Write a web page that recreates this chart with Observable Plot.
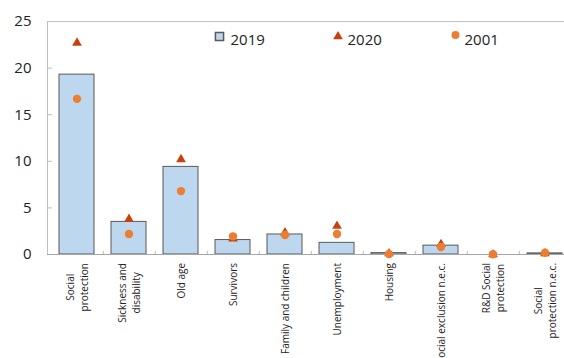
<!DOCTYPE html>
<html><head><meta charset="utf-8">
<script src="https://cdn.jsdelivr.net/npm/d3@7"></script>
<script src="https://cdn.jsdelivr.net/npm/@observablehq/plot@0.6"></script>
<style>
html,body{margin:0;padding:0;overflow:hidden;background:#fff;font-family:"Open Sans",sans-serif}
</style>
</head><body><div id="chart"></div>
<script>
const categories = ["Social protection","Sickness and disability","Old age","Survivors","Family and children","Unemployment","Housing","Social exclusion n.e.c.","R&D Social protection","Social protection n.e.c."];
const categoryLabels = ["Social\nprotection","Sickness and\ndisability","Old age","Survivors","Family and children","Unemployment","Housing","Social exclusion n.e.c.","R&D Social\nprotection","Social\nprotection n.e.c."];
const values2019 = [19.3,3.5,9.4,1.55,2.15,1.25,0.15,0.95,0,0.12];
const values2020 = [22.7,3.8,10.2,1.7,2.35,3.05,0.1,1.1,0,0.1];
const values2001 = [16.7,2.2,6.8,1.95,2.1,2.2,0.05,0.8,0.02,0.18];
const yTicks = [0,5,10,15,20,25];
const seriesNames = ["2019","2020","2001"];

const rows = categories.map((c,i)=>({cat:c, v2019:values2019[i], v2020:values2020[i], v2001:values2001[i]}));

const width = 564, height = 358;
const mL = 47, mR = -9, mT = 21, mB = 104;
const plotW = width - mL - mR;
const step = plotW / categories.length;

const ctx = document.createElement("canvas").getContext("2d");
ctx.font = "10px 'Open Sans'";
const maxLen = s => Math.max(...s.split("\n").map(l => ctx.measureText(l).width));

const barFill = "#BDD7EE", barStroke = "#595959", triColor = "#C9400C", dotColor = "#ED7D31", axisColor = "#BFBFBF", textColor = "#222";

const labelMarks = categoryLabels.map((lab,i) => Plot.text([lab], {
  x: () => categories[i], text: d => d, frameAnchor: "bottom",
  rotate: -90, textAnchor: "middle", lineAnchor: "middle", lineHeight: 1.4,
  dy: 8.5 + maxLen(lab)/2, fontSize: 10, fill: textColor
}));

const chart = Plot.plot({
  width, height, marginLeft: mL, marginRight: mR, marginTop: mT, marginBottom: mB,
  style: {fontFamily: "'Open Sans', sans-serif", overflow: "hidden", background: "#fff"},
  x: {domain: categories, paddingInner: 0.33, paddingOuter: 0.165, axis: null},
  y: {domain: [0,25], axis: null},
  marks: [
    Plot.ruleY([25], {stroke: axisColor}),
    Plot.frame({anchor: "left", stroke: axisColor}),
    Plot.ruleY(yTicks, {stroke: axisColor, insetRight: plotW - 5}),
    Plot.axisY({ticks: yTicks, tickSize: 0, tickPadding: 16, fontSize: 15, fill: textColor, label: null}),
    Plot.barY(rows, {x: "cat", y: "v2019", fill: barFill, stroke: barStroke, strokeWidth: 1}),
    Plot.ruleY([0], {stroke: "#A6A6A6"}),
    Plot.ruleX(categories, {x: d => d, dx: step/2, y1: 0, y2: 0.35, stroke: axisColor}),
    Plot.dot(rows, {x: "cat", y: "v2020", symbol: "triangle", r: 3.6, fill: triColor}),
    Plot.dot(rows, {x: "cat", y: "v2001", symbol: "circle", r: 4.2, fill: dotColor}),
    // legend
    Plot.dot([seriesNames[0]], {frameAnchor: "top-left", dx: 172, dy: 15, symbol: "square", r: 4.6, fill: barFill, stroke: barStroke}),
    Plot.text([seriesNames[0]], {frameAnchor: "top-left", dx: 183, dy: 13, text: d => d, textAnchor: "start", fontSize: 15, fill: textColor}),
    Plot.dot([seriesNames[1]], {frameAnchor: "top-left", dx: 290.5, dy: 15, symbol: "triangle", r: 3.6, fill: triColor}),
    Plot.text([seriesNames[1]], {frameAnchor: "top-left", dx: 300, dy: 13, text: d => d, textAnchor: "start", fontSize: 15, fill: textColor}),
    Plot.dot([seriesNames[2]], {frameAnchor: "top-left", dx: 408, dy: 13.5, symbol: "circle", r: 4, fill: dotColor}),
    Plot.text([seriesNames[2]], {frameAnchor: "top-left", dx: 417, dy: 13, text: d => d, textAnchor: "start", fontSize: 15, fill: textColor}),
    ...labelMarks
  ]
});
document.getElementById("chart").appendChild(chart);
</script>
</body></html>
